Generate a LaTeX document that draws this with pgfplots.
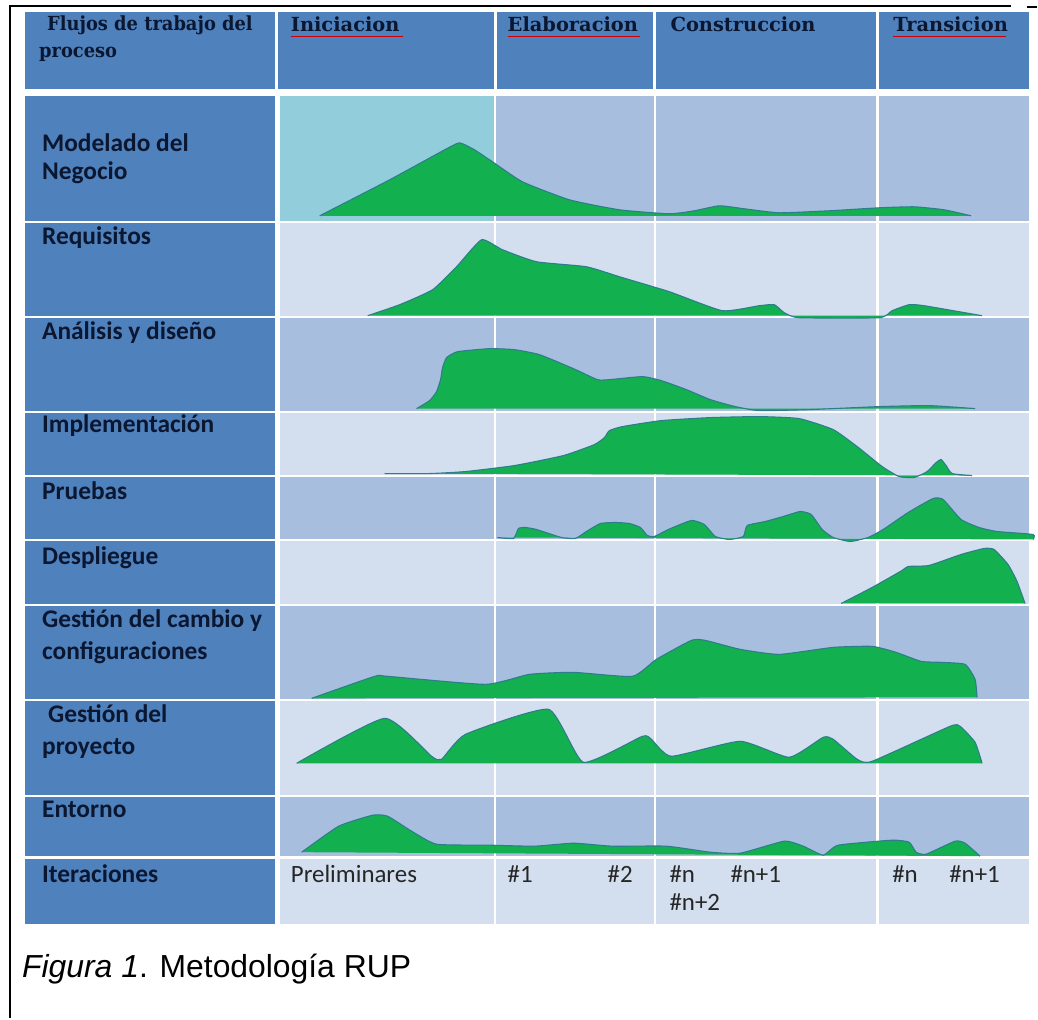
\documentclass[border=0pt]{standalone}
\usepackage{fontspec}
\usepackage{pgfplots}
\usepackage{pgfplotstable}
\pgfplotsset{compat=1.18}
\setmainfont{Carlito}
\newfontfamily\headfont{DejaVu Serif}
\newfontfamily\capfont{Liberation Sans}
\definecolor{hdr}{HTML}{4F81BD}
\definecolor{darkrow}{HTML}{A7BEDE}
\definecolor{lightrow}{HTML}{D3DFEE}
\definecolor{cyanc}{HTML}{92CDDC}
\definecolor{grn}{HTML}{13B04F}
\definecolor{edgec}{HTML}{2E7D8C}
\definecolor{txt}{HTML}{0B1730}

\pgfplotstableread{
x y
320 216
390 180
445 150
460 143
475 150
493 162
523 182
570 200
620 210
670 214
695 211
720 206
745 209
780 213
830 211
880 208
915 207
945 210
972 216
}\modelado
\pgfplotstableread{
x y
368 316
400 305
433 290
457 267
482 240
503 250
537 262
587 267
620 277
670 292
723 311
760 306
775 305
785 313
800 318
880 318
893 311
910 305
925 306
983 316
}\requisitos
\pgfplotstableread{
x y
417 409
430 401
437 392
441 380
443 368
447 358
458 352
490 349
515 350
540 355
574 369
598 380
610 380
643 377
662 381
687 390
711 400
736 407
760 411
810 410
880 407
930 406
976 409
}\analisis
\pgfplotstableread{
x y
385 474
430 474
466 472
515 466
564 456
595 445
605 438
610 431
623 427
662 421
711 418
760 417
800 419
834 430
858 447
883 467
900 477
915 478
928 472
937 463
942 460
947 466
953 474
973 476
}\implementacion
\pgfplotstableread{
x y
498 538
514 539
519 529
526 528
537 530
562 538
576 539
587 532
601 524
616 523
630 524
641 528
648 536
655 537
669 530
692 521
705 525
716 537
730 540
744 537
748 526
766 522
784 517
801 512
812 515
823 530
834 538
851 542
869 538
884 530
909 513
934 499
944 500
962 520
980 528
998 532
1034 535
1034 540
}\pruebas
\pgfplotstableread{
x y
842 604
873 588
903 571
909 567
930 566
962 555
985 549
995 550
1009 565
1018 582
1026 604
}\despliegue
\pgfplotstableread{
x y
312 699
375 677
388 677
486 685
530 675
574 673
633 677
657 660
692 641
706 641
741 650
780 655
834 648
873 647
897 653
922 662
942 663
966 665
976 680
978 698
}\cambio
\pgfplotstableread{
x y
297 764
385 719
432 757
442 760
466 735
549 710
584 763
643 737
652 740
672 757
741 742
790 758
824 738
834 740
858 760
873 762
951 727
961 727
976 743
983 764
}\proyecto
\pgfplotstableread{
x y
302 853
339 827
373 816
388 817
412 832
437 845
491 846
535 847
574 844
613 847
667 847
711 853
741 854
785 842
804 847
824 856
839 846
893 841
910 843
917 853
927 855
956 842
966 844
981 857
}\entorno

\newcommand{\hump}[1]{%
  \addplot[fill=grn, draw=none, smooth, tension=0.3] table {#1} -- cycle;
  \addplot[draw=edgec, line width=1.1bp, smooth, tension=0.3] table {#1};
}
\newcommand{\rowcells}[3]{%
  \fill[hdr] (25,#1) rectangle (275,#2);
  \fill[#3] (280,#1) rectangle (1030,#2);
}

\begin{document}
\begin{tikzpicture}
\begin{axis}[scale only axis, width=1038bp, height=1019bp,
  xmin=0, xmax=1038, ymin=0, ymax=1019, y dir=reverse,
  axis lines=none, ticks=none, clip=false, no markers]
\fill[white] (0,0) rectangle (1038,1019);
% frame
\draw[black, line width=2bp] (10,1019) -- (10,6) -- (1012,6);
\draw[black, line width=2bp] (1028,7) -- (1038,7);
% header
\fill[hdr] (25,12) rectangle (275,89);
\fill[hdr] (278,12) rectangle (494,89);
\fill[hdr] (497,12) rectangle (654,89);
\fill[hdr] (657,12) rectangle (877,89);
\fill[hdr] (880,12) rectangle (1030,89);
% rows
\rowcells{96}{221}{darkrow}
\rowcells{223}{316}{lightrow}
\rowcells{318}{411}{darkrow}
\rowcells{413}{475}{lightrow}
\rowcells{477}{540}{darkrow}
\rowcells{542}{605}{lightrow}
\rowcells{607}{700}{darkrow}
\rowcells{702}{796}{lightrow}
\rowcells{798}{857}{darkrow}
\rowcells{860}{925}{lightrow}
\fill[cyanc] (280,96) rectangle (494,221);
\draw[white, line width=2.5bp] (495.5,96) -- (495.5,925);
\draw[white, line width=2.5bp] (655.5,96) -- (655.5,925);
\draw[white, line width=2.5bp] (878.5,96) -- (878.5,925);
% humps
\hump{\modelado}
\hump{\requisitos}
\hump{\analisis}
\hump{\implementacion}
\hump{\pruebas}
\hump{\despliegue}
\hump{\cambio}
\hump{\proyecto}
\hump{\entorno}
% header text
\begin{scope}[every node/.style={anchor=base west, inner sep=0pt, text=txt, font=\headfont\bfseries\fontsize{19.5}{22}\selectfont}]
\node[xscale=0.92] at (47,31) {Flujos de trabajo del};
\node[xscale=0.92] at (39,58) {proceso};
\node at (291,32) {Iniciacion};
\node at (508,32) {Elaboracion};
\node at (671,32) {Construccion};
\node at (894,32) {Transicion};
\end{scope}
\draw[red!80!black, line width=0.8bp] (291,36) -- (403,36);
\draw[red!80!black, line width=0.8bp] (508,36) -- (641,36);
\draw[red!80!black, line width=0.8bp] (894,36) -- (1007,36);
% row labels
\begin{scope}[every node/.style={anchor=base west, inner sep=0pt, text=txt, font=\bfseries\fontsize{25.5}{30}\selectfont}]
\node at (42,152) {Modelado del};
\node at (42,180) {Negocio};
\node at (42,245) {Requisitos};
\node at (42,340) {Análisis y diseño};
\node at (42,433) {Implementación};
\node at (42,500) {Pruebas};
\node at (42,565) {Despliegue};
\node at (42,628) {Gestión del cambio y};
\node at (42,660) {configuraciones};
\node at (48,723) {Gestión del};
\node at (42,755) {proyecto};
\node at (42,818) {Entorno};
\node at (42,883) {Iteraciones};
\end{scope}
% iterations
\begin{scope}[every node/.style={anchor=base west, inner sep=0pt, text=black!85, font=\fontsize{25}{28}\selectfont}]
\node at (291,883) {Preliminares};
\node at (508,883) {\#1};
\node at (608,883) {\#2};
\node at (670,883) {\#n};
\node at (731,883) {\#n+1};
\node at (670,911) {\#n+2};
\node at (893,883) {\#n};
\node at (950,883) {\#n+1};
\end{scope}
% caption
\node[anchor=base west, inner sep=0pt, font=\capfont\fontsize{32}{36}\selectfont] at (22,978) {\textit{Figura 1}. Metodología RUP};
\end{axis}
\end{tikzpicture}
\end{document}
